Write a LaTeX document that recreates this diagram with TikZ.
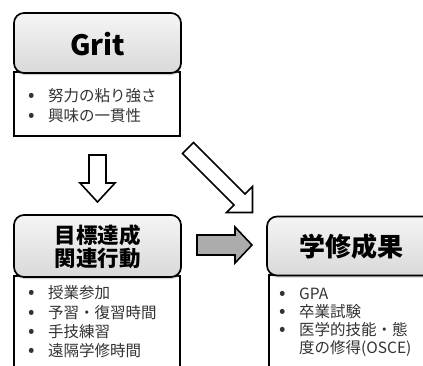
\documentclass[tikz,border=0pt]{standalone}
\usepackage{fontspec}
\setmainfont{Noto Sans CJK JP}
\usetikzlibrary{shadows}
\newcommand\listline[4]{%
  \node[bul] (#1b) at (#2,#3) {\fontsize{19}{19}\selectfont •};
  \node[itm] (#1) at ([xshift=16pt]#1b.center) {#4};}
\begin{document}
\begin{tikzpicture}[x=1pt,y=-1pt,
  hdr/.style={draw=black, line width=1.7pt, rounded corners=10pt,
    top color=gray!8, bottom color=gray!30, inner sep=0pt,
    drop shadow={shadow xshift=0.5pt, shadow yshift=-2pt, opacity=0.35}},
  lst/.style={draw=black, line width=1.4pt, fill=white},
  bul/.style={inner sep=0pt, text height=12pt, text depth=3pt, text=black!80,
    font=\fontsize{15.5}{19}\selectfont},
  itm/.style={bul, anchor=west},
  blk/.style={draw=black, line width=1.6pt, line join=miter},
  ttl/.style={font=\fontsize{#1}{#1}\selectfont\bfseries, inner sep=0pt}
]
\useasboundingbox (0,0) rectangle (423,365);
\clip (0,0) rectangle (423,365);

% Grit box
\draw[lst] (14,72) rectangle (180,136);
\node[hdr, minimum width=167pt, minimum height=60pt] (h1) at (97.5,43) {};
\node[ttl=28] (t1) at (97.5,44) {Grit};
\listline{a1}{32}{97}{努力の粘り強さ}
\listline{a2}{32}{117}{興味の一貫性}

% Goal-related behaviour box
\draw[lst] (14,276) rectangle (180,380);
\node[hdr, minimum width=167pt, minimum height=62pt] (h2) at (97.5,246) {};
\node[ttl=21.5, align=center, font=\fontsize{21.5}{23.5}\selectfont\bfseries] (t2) at (97.5,246.5) {目標達成\\関連行動};
\listline{b1}{32}{294}{授業参加}
\listline{b2}{32}{313.5}{予習・復習時間}
\listline{b3}{32}{333}{手技練習}
\listline{b4}{32}{352}{遠隔学修時間}

% Learning outcome box
\draw[lst] (269,275) rectangle (445,380);
\node[hdr, minimum width=176pt, minimum height=59pt] (h3) at (355,246) {};
\node[ttl=26] (t3) at (351.5,247) {学修成果};
\listline{c1}{283}{295}{GPA}
\listline{c2}{283}{313}{卒業試験}
\listline{c3}{283}{331}{医学的技能・態}
\node[itm] (c4) at (299,349) {度の修得(OSCE)};

% block arrows
\draw[blk, fill=white] (89,155) -- (106,155) -- (106,183) -- (115,183)
  -- (97.5,202) -- (80,183) -- (89,183) -- cycle;
\draw[blk, fill=gray!65] (197,235) -- (235,235) -- (235,227) -- (252,245)
  -- (235,263) -- (235,255) -- (197,255) -- cycle;
\draw[blk, fill=white] (193.5,142.5) -- (245,194) -- (252.5,186.5)
  -- (252.5,212.5) -- (226.5,212.5) -- (234,205) -- (182.5,153.5) -- cycle;
\end{tikzpicture}
\end{document}
